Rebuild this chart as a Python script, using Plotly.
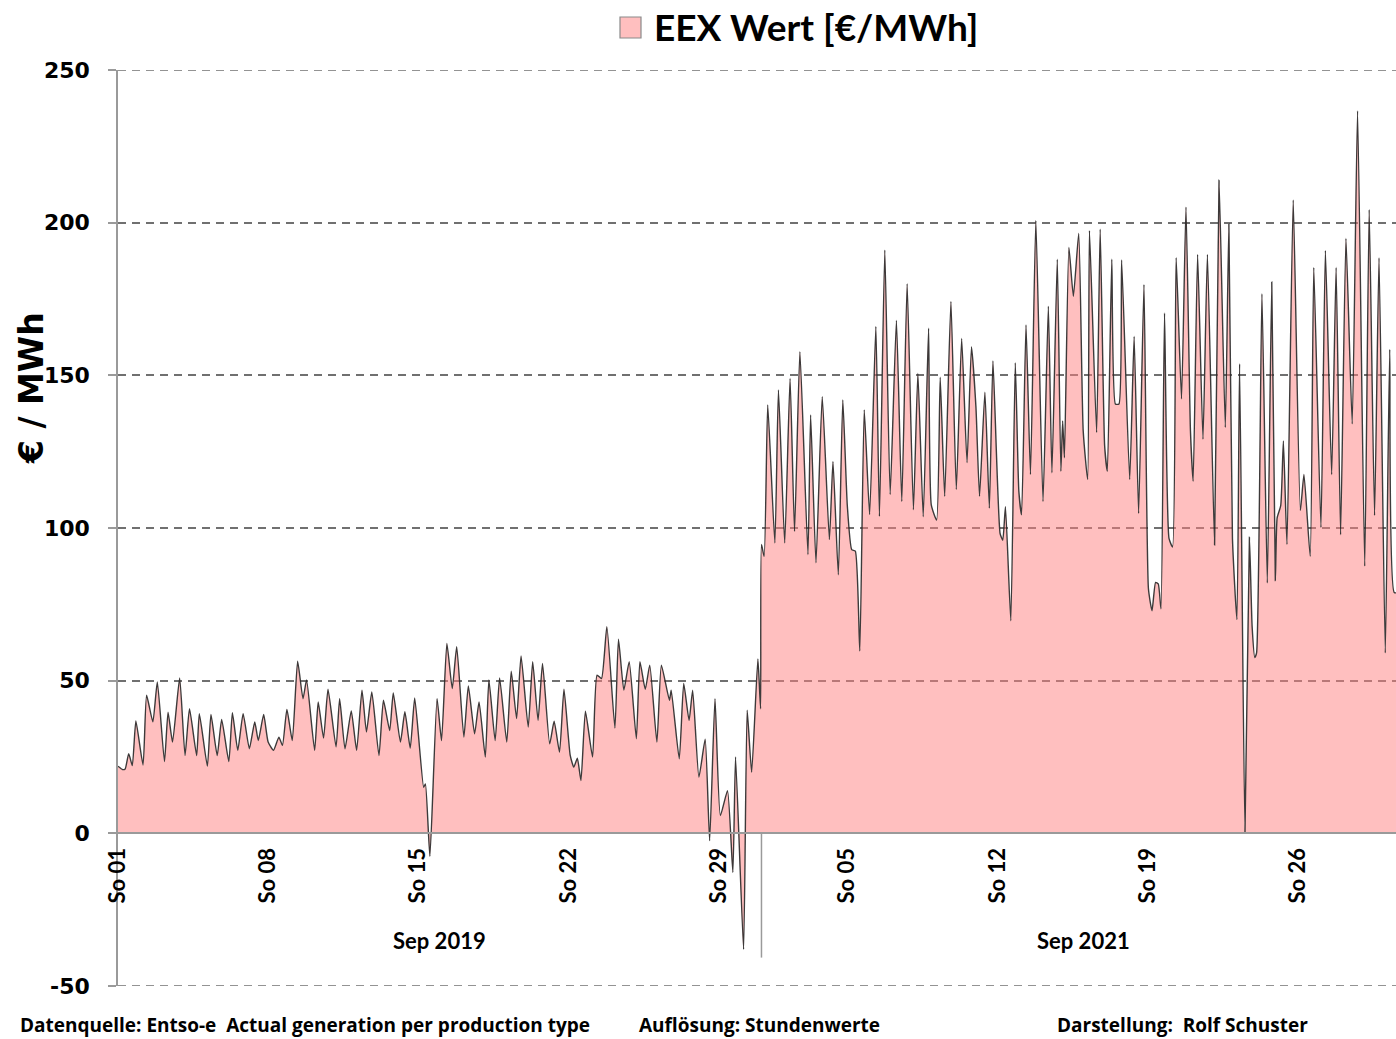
import plotly.graph_objects as go

# ---- data: hourly EEX prices, turning points (hour of month, EUR/MWh) ----
hours_2019 = [0, 5, 8, 12, 16, 20, 28, 32, 39, 44, 52, 56, 61, 69, 75, 80, 88, 91, 100, 104,
              111, 116, 124, 128, 134, 140, 147, 153, 157, 163, 168, 174, 180, 184, 189, 195,
              201, 207, 211, 220, 224, 230, 235, 244, 248, 254, 261, 267, 273, 278, 284, 292,
              297, 304, 308, 316, 321, 327, 332, 342, 344, 349, 357, 362, 368, 374, 379, 387,
              392, 399, 404, 411, 415, 422, 427, 435, 440, 446, 451, 459, 464, 470, 475, 483,
              488, 494, 499, 506, 510, 514, 518, 523, 531, 536, 541, 547, 556, 560, 566, 572,
              580, 584, 590, 595, 603, 608, 617, 619, 628, 633, 639, 643, 650, 657, 662, 668,
              674, 682, 688, 691, 700, 704, 709, 716, 719]
price_2019 = [22.0, 20.9, 21.1, 26.1, 22.2, 36.8, 22.4, 45.2, 36.5, 49.6, 23.5, 39.7, 29.9, 50.9,
              25.5, 40.8, 25.5, 39.2, 22.0, 38.9, 25.5, 37.3, 23.5, 39.5, 27.2, 39.2, 27.7, 36.5,
              30.4, 38.9, 29.9, 27.2, 31.5, 28.8, 40.6, 30.4, 56.4, 44.1, 50.2, 27.2, 43.0, 31.2,
              47.2, 28.3, 44.1, 27.7, 40.1, 27.2, 46.9, 33.2, 46.3, 25.5, 43.6, 33.7, 46.0, 29.9,
              39.8, 27.9, 44.3, 15.1, 16.2, -7.5, 44.1, 30.4, 62.2, 47.4, 61.1, 31.5, 48.3, 32.6,
              43.0, 25.0, 50.2, 30.4, 50.9, 29.9, 53.1, 37.6, 58.1, 34.8, 56.2, 37.0, 55.6, 29.3,
              36.7, 26.6, 47.2, 25.5, 21.7, 24.6, 17.3, 40.0, 25.0, 51.8, 50.7, 67.7, 34.5, 63.6,
              46.9, 56.2, 31.0, 56.2, 47.2, 55.1, 29.9, 55.1, 43.6, 46.9, 24.4, 49.1, 37.0, 46.9,
              18.4, 30.8, -2.4, 44.1, 5.8, 14.0, -12.8, 25.0, -38.0, 40.3, 20.0, 57.1, 40.8]

hours_2021 = [0, 3, 7, 15, 19, 26, 32, 37, 43, 52, 55, 61, 68, 76, 80, 86, 91, 96, 101, 105,
              110, 115, 121, 128, 132, 138, 144, 151, 157, 163, 170, 175, 181, 187, 190, 196,
              200, 205, 212, 218, 224, 230, 235, 240, 244, 250, 255, 259, 267, 270, 273, 279,
              284, 288, 291, 296, 301, 307, 315, 321, 325, 331, 335, 337, 339, 344, 349, 355,
              360, 365, 367, 375, 379, 384, 387, 392, 396, 400, 403, 412, 417, 422, 428, 433,
              437, 441, 444, 447, 451, 456, 460, 464, 470, 475, 480, 483, 488, 494, 499, 507,
              512, 519, 523, 527, 532, 535, 541, 546, 549, 552, 554, 560, 566, 571, 575, 577,
              581, 584, 588, 595, 603, 607, 614, 618, 626, 631, 638, 643, 648, 654, 661, 667,
              675, 680, 686, 691, 698, 703, 708, 715]
price_2021 = [94.6, 90.7, 140.3, 95.1, 145.2, 95.1, 149.0, 98.9, 157.7, 91.3, 137.0, 88.6, 143.0,
              96.2, 121.8, 84.7, 141.9, 107.6, 92.9, 92.4, 59.7, 138.7, 104.4, 166.0, 103.8,
              191.0, 111.0, 168.0, 108.7, 180.0, 106.0, 150.6, 103.7, 165.4, 107.6, 102.6, 149.4,
              110.4, 174.2, 112.6, 162.1, 121.4, 159.4, 139.5, 110.4, 144.5, 106.5, 154.7, 98.2,
              96.0, 107.0, 69.6, 154.1, 112.0, 104.3, 166.5, 117.5, 200.7, 108.7, 172.6, 118.1,
              188.0, 118.6, 135.1, 123.0, 191.9, 175.9, 196.5, 131.8, 115.9, 197.4, 131.3, 197.9,
              126.9, 118.6, 188.0, 140.6, 140.6, 187.8, 115.9, 162.7, 104.8, 179.7, 80.1, 72.9,
              82.2, 81.7, 73.5, 170.4, 96.6, 93.8, 188.5, 142.3, 205.1, 131.8, 115.3, 189.6,
              129.1, 189.6, 94.4, 213.9, 132.9, 199.6, 96.6, 70.0, 153.8, 0.0, 97.0, 67.8, 57.6,
              59.1, 176.7, 82.0, 180.6, 82.8, 103.3, 107.3, 128.5, 94.6, 207.4, 105.7, 117.5,
              90.7, 185.3, 100.2, 190.9, 117.5, 185.3, 97.8, 194.8, 134.1, 236.6, 87.5, 204.3,
              104.1, 188.5, 59.1, 158.5, 78.9, 79.0]

month_hours = 720
tick_hours_2019 = [0, 168, 336, 504, 672]
tick_hours_2021 = [96, 264, 432, 600]
tick_labels_2019 = ["So 01", "So 08", "So 15", "So 22", "So 29"]
tick_labels_2021 = ["So 05", "So 12", "So 19", "So 26"]
month_labels = ["Sep 2019", "Sep 2021"]
y_ticks = [-50, 0, 50, 100, 150, 200, 250]
y_tick_text = ["-50", "0", "50", "100", "150", "200", "250"]

x_all = hours_2019 + [month_hours + h for h in hours_2021]
y_all = price_2019 + price_2021
tickvals = tick_hours_2019 + [month_hours + h for h in tick_hours_2021]
ticktext = tick_labels_2019 + tick_labels_2021

# ---- layout helpers (window pixel -> paper); body margin removed via post_script ----
W, H = 1396, 1039
L, R, T, B = 118, 0, 70, 1039 - 986
PW, PH = W - L - R, H - T - B


def px(x):
    return (x - L) / PW


def py(y):
    return (H - B - y) / PH


fig = go.Figure()
fig.add_trace(go.Scatter(
    x=x_all, y=y_all, mode="lines",
    line=dict(color="rgba(40,40,40,0.9)", width=1.4, shape="spline", smoothing=0.5),
    fill="tozeroy", fillcolor="rgba(255,128,128,0.5)",
    showlegend=False, hoverinfo="skip"))

y_min, y_max = -50, 250
x_max = 1430
GRID_COLOR, GRID_DASH, GRID_W = "#707070", "8px,6px", 1.6
fig.update_layout(
    width=W, height=H,
    margin=dict(l=L, r=R, t=T, b=B, autoexpand=False),
    paper_bgcolor="white", plot_bgcolor="white",
    xaxis=dict(range=[0, x_max], anchor="free", position=(0 - y_min) / (y_max - y_min),
               showgrid=False, zeroline=False, showline=True, linecolor="#9a9a9a",
               linewidth=1.5, tickmode="array", tickvals=tickvals, ticktext=ticktext,
               tickangle=-90, ticks="", ticklabelstandoff=5, automargin=False,
               tickfont=dict(family="Lato", size=22, color="black", weight="bold")),
    yaxis=dict(range=[y_min, y_max], tickmode="array", tickvals=y_ticks, ticktext=y_tick_text,
               showgrid=True, gridcolor=GRID_COLOR, griddash=GRID_DASH, gridwidth=GRID_W,
               zeroline=False, showline=True, linecolor="#9a9a9a", linewidth=1.5,
               ticks="outside", ticklen=8, tickcolor="#9a9a9a", tickwidth=1.5,
               ticklabelstandoff=14, automargin=False,
               tickfont=dict(family="DejaVu Sans", size=22, color="black", weight="bold")),
)

# dashed gridlines at the range edges (top and bottom)
for yv in (y_min, y_max):
    fig.add_shape(type="line", xref="x", yref="y", x0=0, x1=x_max, y0=yv, y1=yv,
                  line=dict(color=GRID_COLOR, width=GRID_W, dash=GRID_DASH), layer="below")

# separator between the two months
fig.add_shape(type="line", xref="x", yref="y", x0=month_hours, x1=month_hours,
              y0=0, y1=-40.7, line=dict(color="#9a9a9a", width=1.5))

# month labels
for i, lab in enumerate(month_labels):
    fig.add_annotation(x=month_hours * i + month_hours / 2, y=-35, xref="x", yref="y",
                       text=lab, showarrow=False,
                       font=dict(family="Lato", size=22, color="black", weight="bold"))

# legend-like title
fig.add_shape(type="rect", xref="paper", yref="paper",
              x0=px(620), x1=px(641), y0=py(38), y1=py(17),
              fillcolor="#FFBFBF", line=dict(color="#8a8a8a", width=1.2))
fig.add_annotation(x=px(652), y=py(27), xref="paper", yref="paper", xanchor="left",
                   yanchor="middle", text="EEX Wert [€/MWh]", showarrow=False,
                   font=dict(family="Lato", size=37, color="black", weight="bold"))

# y-axis title
fig.add_annotation(x=px(31), y=py(388), xref="paper", yref="paper", textangle=-90,
                   xanchor="center", yanchor="middle",
                   text="€ / MWh", showarrow=False,
                   font=dict(family="DejaVu Sans", size=33, color="black", weight="bold"))

# footer
footer = [(18, "Datenquelle: Entso-e  Actual generation per production type"),
          (637, "Auflösung: Stundenwerte"),
          (1055, "Darstellung:  Rolf Schuster")]
for xpos, txt in footer:
    fig.add_annotation(x=px(xpos), y=py(1025), xref="paper", yref="paper", xanchor="left",
                       yanchor="middle", text=txt, showarrow=False,
                       font=dict(family="Open Sans", size=19, color="black", weight="bold"))

fig.write_html("out.html", config={"displayModeBar": False},
               post_script="document.body.style.margin='0';document.body.style.overflow='hidden';")
